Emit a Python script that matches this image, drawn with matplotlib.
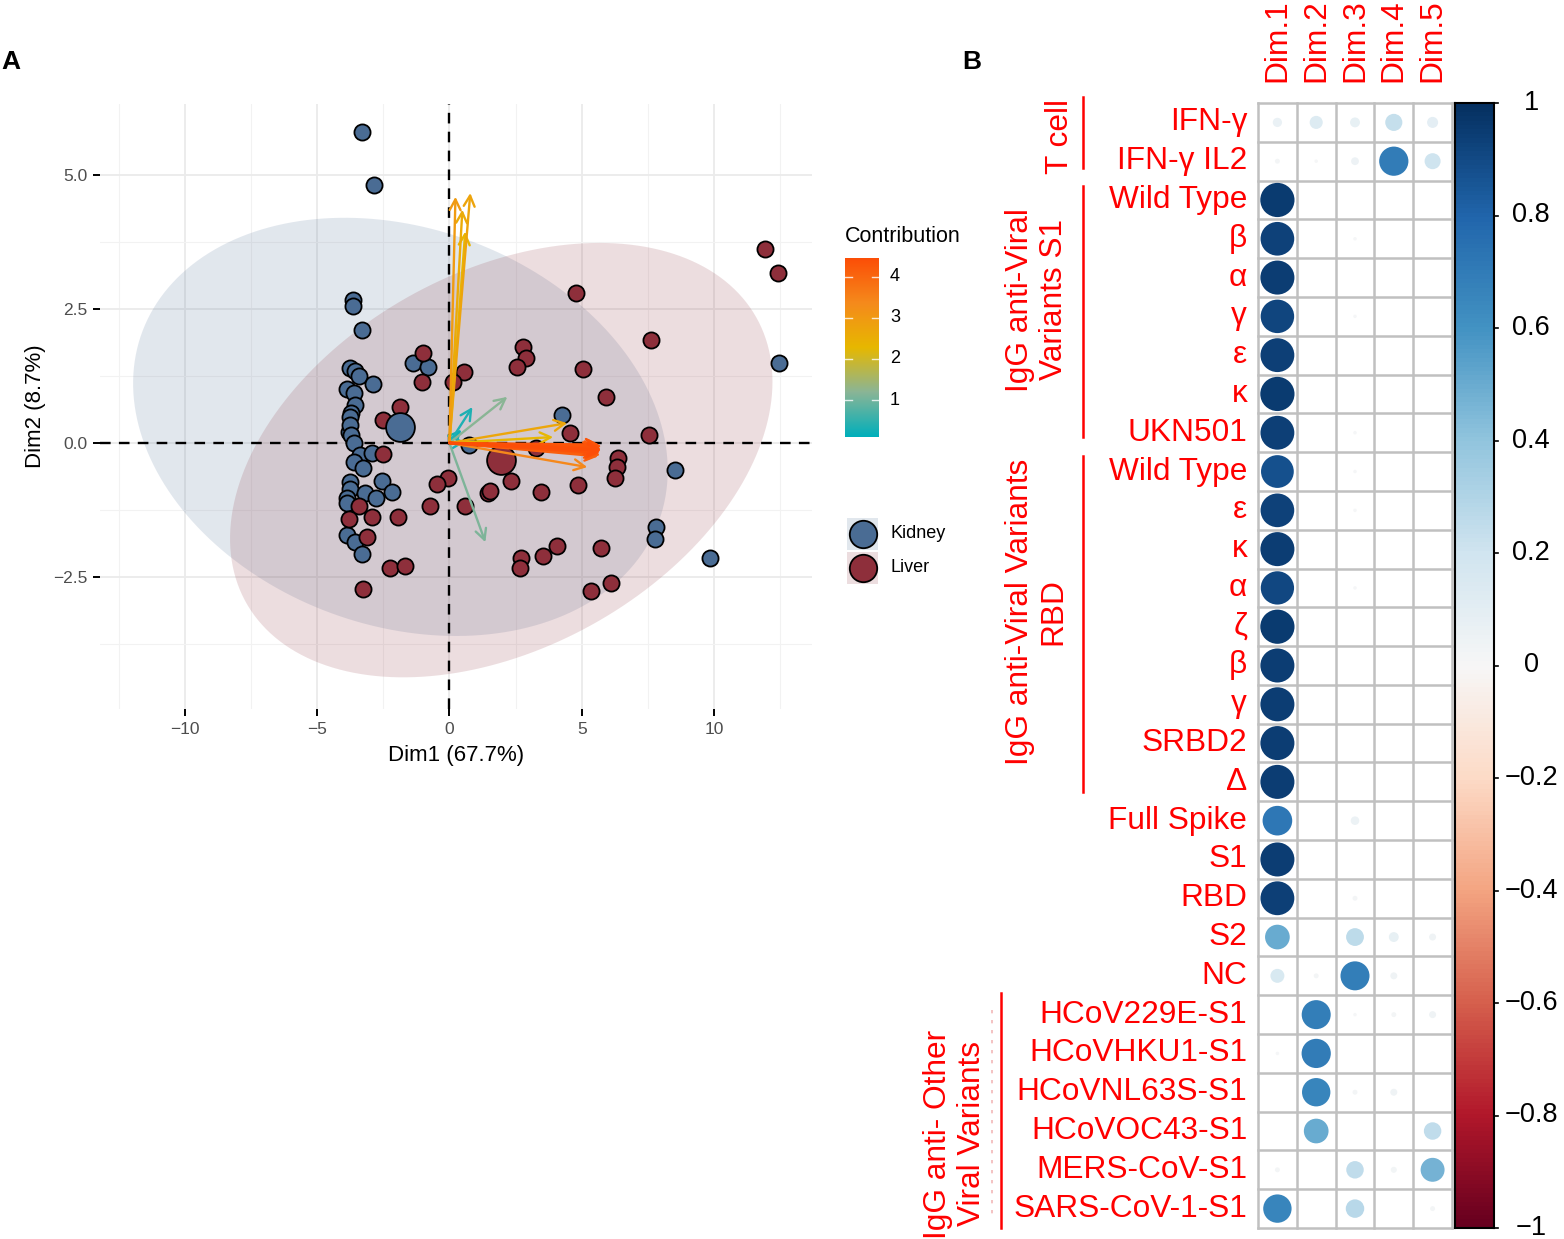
import numpy as np
import matplotlib
matplotlib.use("Agg")
import matplotlib.pyplot as plt
from matplotlib.colors import LinearSegmentedColormap, Normalize
from matplotlib.patches import Circle, Rectangle

plt.rcParams['font.family'] = ['Liberation Sans', 'DejaVu Sans']

W, H = 1564, 1239

# ---------------- panel A: PCA biplot -----------------------------------------
kidney_x = [-3.32, -2.83, -3.66, -3.66, -3.32, -3.74, -3.58, -3.43, -2.87, -1.36,
            -0.79, -3.85, -3.62, -3.55, -3.70, -3.77, -3.81, -3.77, -3.70, -3.62,
            -3.36, -2.94, -3.62, -3.28, -3.77, -3.77, -2.53, -2.15, -3.17, -2.79,
            -3.85, -3.85, -3.85, -3.58, -3.32, 0.75, 4.26, 8.53, 7.81, 7.77,
            9.85, 12.45]
kidney_y = [5.80, 4.81, 2.67, 2.56, 2.11, 1.40, 1.35, 1.25, 1.10, 1.49,
            1.42, 1.01, 0.93, 0.71, 0.55, 0.49, 0.21, 0.34, 0.15, 0.00,
            -0.22, -0.19, -0.35, -0.47, -0.73, -0.85, -0.71, -0.91, -0.94, -1.03,
            -1.03, -1.12, -1.72, -1.85, -2.07, -0.04, 0.52, -0.50, -1.57, -1.79,
            -2.15, 1.49]
liver_x = [11.92, 12.42, 4.79, 7.62, 2.79, 2.91, 2.57, 5.06, 5.92, 0.57,
           0.15, 4.57, 7.55, 6.38, 6.34, 6.26, 3.28, 4.87, 3.47, 2.34,
           1.47, 1.55, -0.04, -0.45, -0.72, 0.60, 2.72, 2.68, 3.55, 4.08,
           5.74, 5.36, 6.11, -2.26, -1.66, -3.28, -3.13, -3.40, -2.91, -1.96,
           -3.81, -0.98, -1.02, -1.85, -2.49, -2.51]
liver_y = [3.62, 3.17, 2.80, 1.92, 1.79, 1.59, 1.42, 1.38, 0.86, 1.32,
           1.14, 0.19, 0.15, -0.28, -0.45, -0.66, -0.10, -0.78, -0.91, -0.71,
           -0.94, -0.90, -0.65, -0.77, -1.17, -1.17, -2.15, -2.33, -2.11, -1.93,
           -1.95, -2.76, -2.62, -2.33, -2.30, -2.72, -1.75, -1.17, -1.38, -1.38,
           -1.42, 1.68, 1.14, 0.67, 0.43, -0.20]
kidney_centre = (-1.85, 0.30)
liver_centre = (1.96, -0.32)
# concentration ellipses: (sxx, syy, sxy) scaled second moments
kidney_ell = (102.0, 15.2, -8.2)
liver_ell = (105.0, 16.4, 15.0)

# variable arrows (coordinates, contribution)
var_x = [0.23, 0.79, 0.49, 0.60, 4.45, 3.92, 5.21, 2.19, 0.87, 1.36, 0.60, 0.45,
         5.72, 5.70, 5.68, 5.66, 5.74, 5.60, 5.64, 5.70, 5.58, 5.75, 5.62, 5.69,
         5.55, 5.73, 5.66, 5.60]
var_y = [4.59, 4.66, 4.35, 3.94, 0.37, 0.11, -0.45, 0.86, 0.67, -1.85, 0.02, 0.25,
         -0.10, -0.15, -0.05, -0.20, -0.12, -0.08, -0.17, -0.22, -0.13, -0.06, -0.25, -0.18,
         -0.10, -0.14, -0.03, -0.19]
var_contrib = [2.95, 2.75, 2.60, 2.35, 2.70, 2.30, 3.40, 1.20, 0.35, 1.10, 0.30, 0.20,
               4.40, 4.30, 4.35, 4.20, 4.46, 4.25, 4.30, 4.10, 4.38, 4.30, 4.15, 4.40,
               4.20, 4.45, 4.30, 4.25]
contrib_min, contrib_max = 0.10, 4.46

KIDNEY_COL = "#4A6C94"
LIVER_COL = "#8E2F3B"

# ---------------- panel B: correlation-style dot matrix ------------------------
row_labels = ["IFN-γ", "IFN-γ IL2", "Wild Type", "β", "α", "γ", "ε", "κ", "UKN501",
              "Wild Type", "ε", "κ", "α", "ζ", "β", "γ", "SRBD2", "Δ",
              "Full Spike", "S1", "RBD", "S2", "NC",
              "HCoV229E-S1", "HCoVHKU1-S1", "HCoVNL63S-S1", "HCoVOC43-S1",
              "MERS-CoV-S1", "SARS-CoV-1-S1"]
dim_labels = ["Dim.1", "Dim.2", "Dim.3", "Dim.4", "Dim.5"]
dim1 = [0.07, 0.02, 0.96, 0.93, 0.95, 0.92, 0.94, 0.96, 0.94,
        0.88, 0.93, 0.95, 0.91, 0.96, 0.95, 0.95, 0.95, 0.95,
        0.72, 0.95, 0.94, 0.50, 0.16, 0.00, 0.01, 0.00, 0.00, 0.02, 0.66]
dim2 = [0.14, 0.01, 0.00, 0.00, 0.00, 0.00, 0.00, 0.00, 0.00,
        0.00, 0.00, 0.00, 0.00, 0.00, 0.00, 0.00, 0.00, 0.00,
        0.00, 0.00, 0.00, 0.00, 0.02, 0.69, 0.70, 0.66, 0.50, 0.00, 0.00]
dim3 = [0.08, 0.05, 0.00, 0.01, 0.00, 0.01, 0.00, 0.00, 0.01,
        0.01, 0.01, 0.00, 0.01, 0.00, 0.00, 0.00, 0.00, 0.00,
        0.06, 0.00, 0.02, 0.26, 0.69, 0.01, 0.00, 0.02, 0.00, 0.25, 0.28]
dim4 = [0.24, 0.70, 0.00, 0.00, 0.00, 0.00, 0.00, 0.00, 0.00,
        0.00, 0.00, 0.00, 0.00, 0.00, 0.00, 0.00, 0.00, 0.00,
        0.00, 0.00, 0.00, 0.08, 0.04, 0.02, 0.00, 0.04, 0.00, 0.03, 0.00]
dim5 = [0.10, 0.21, 0.00, 0.00, 0.00, 0.00, 0.00, 0.00, 0.00,
        0.00, 0.00, 0.00, 0.00, 0.00, 0.00, 0.00, 0.00, 0.00,
        0.00, 0.00, 0.00, 0.04, 0.00, 0.04, 0.00, 0.00, 0.25, 0.47, 0.02]
cbar_ticks = [1, 0.8, 0.6, 0.4, 0.2, 0, -0.2, -0.4, -0.6, -0.8, -1]


def frac(x0, y0, x1, y1):
    return [x0 / W, 1 - y1 / H, (x1 - x0) / W, (y1 - y0) / H]


def ellipse_xy(centre, mom, n=200):
    sxx, syy, sxy = mom
    L = np.linalg.cholesky(np.array([[sxx, sxy], [sxy, syy]]))
    t = np.linspace(0, 2 * np.pi, n)
    pts = L @ np.vstack([np.cos(t), np.sin(t)])
    return centre[0] + pts[0], centre[1] + pts[1]


fig = plt.figure(figsize=(W / 100, H / 100), dpi=100)

# ---- panel A ----
ax = fig.add_axes(frac(100, 104, 812, 709))
ax.set_xlim(-13.2, 13.7)
ax.set_ylim(-4.96, 6.32)
for s in ax.spines.values():
    s.set_visible(False)
ax.set_xticks([-10, -5, 0, 5, 10])
ax.set_yticks([-2.5, 0, 2.5, 5.0])
ax.set_xticks([-12.5, -7.5, -2.5, 2.5, 7.5, 12.5], minor=True)
ax.set_yticks([-3.75, -1.25, 1.25, 3.75], minor=True)
ax.tick_params(which="major", length=5, width=1.4, color="black",
               labelcolor="#4D4D4D", labelsize=12.5, pad=4)
ax.tick_params(which="minor", length=0)
ax.grid(which="major", color="#EBEBEB", lw=1.3, zorder=0)
ax.grid(which="minor", color="#F2F2F2", lw=0.8, zorder=0)
ax.set_axisbelow(True)

ex, ey = ellipse_xy(kidney_centre, kidney_ell)
ax.fill(ex, ey, color=KIDNEY_COL, alpha=0.16, lw=0, zorder=1)
ex, ey = ellipse_xy(liver_centre, liver_ell)
ax.fill(ex, ey, color=LIVER_COL, alpha=0.16, lw=0, zorder=1)

ax.axhline(0, color="black", lw=1.7, ls=(0, (4.5, 3.5)), zorder=2)
ax.axvline(0, color="black", lw=1.7, ls=(0, (4.5, 3.5)), zorder=2)

ax.scatter(kidney_x, kidney_y, s=135, c=KIDNEY_COL, edgecolors="black",
           linewidths=1.3, zorder=3)
ax.scatter(liver_x, liver_y, s=135, c=LIVER_COL, edgecolors="black",
           linewidths=1.3, zorder=3)
ax.scatter(*kidney_centre, s=430, c=KIDNEY_COL, edgecolors="black",
           linewidths=1.3, zorder=4)
ax.scatter(*liver_centre, s=430, c=LIVER_COL, edgecolors="black",
           linewidths=1.3, zorder=4)

# teal -> gold -> orange-red, with Lab-like muted intermediates
ccmap = LinearSegmentedColormap.from_list(
    "contrib", [(0.0, "#00AFBB"), (0.25, "#8AB596"), (0.5, "#E7B800"),
                (0.75, "#F58A1C"), (1.0, "#FC4E07")])
cnorm = Normalize(contrib_min, contrib_max)
order = np.argsort(var_contrib)
for i in order:
    ax.annotate("", xy=(var_x[i], var_y[i]), xytext=(0, 0),
                arrowprops=dict(arrowstyle="->,head_length=0.55,head_width=0.28",
                                color=ccmap(cnorm(var_contrib[i])), lw=1.7,
                                shrinkA=0, shrinkB=0, mutation_scale=14),
                zorder=5)

ax.set_xlabel("Dim1 (67.7%)", fontsize=16, labelpad=6)
ax.set_ylabel("Dim2 (8.7%)", fontsize=16, labelpad=5)

# contribution colourbar
cax = fig.add_axes(frac(845, 258, 879, 437))
grad = np.linspace(contrib_min, contrib_max, 256).reshape(-1, 1)
cax.imshow(grad, cmap=ccmap, norm=cnorm, aspect="auto", origin="lower",
           extent=[0, 1, contrib_min, contrib_max])
cax.set_xlim(0, 1)
cax.set_ylim(contrib_min, contrib_max)
cax.set_xticks([])
cax.set_yticks([])
for s in cax.spines.values():
    s.set_visible(False)
for v in [1, 2, 3, 4]:
    cax.plot([0, 0.2], [v, v], color="white", lw=1, alpha=0.8)
    cax.plot([0.8, 1], [v, v], color="white", lw=1, alpha=0.8)
    cax.text(1.32, v, str(v), transform=cax.transData, ha="left", va="center",
             fontsize=13, color="black", clip_on=False)

# ---- overlay in pixel coordinates ----
ov = fig.add_axes([0, 0, 1, 1], zorder=10)
ov.set_xlim(0, W)
ov.set_ylim(H, 0)
ov.axis("off")
ov.patch.set_visible(False)

ov.text(1, 62, "A", fontsize=19, fontweight="bold", va="center", ha="left")
ov.text(962, 62, "B", fontsize=19, fontweight="bold", va="center", ha="left")
ov.text(845, 236, "Contribution", fontsize=15.5, va="center", ha="left")

for yk, col, lab in [(534, KIDNEY_COL, "Kidney"), (568, LIVER_COL, "Liver")]:
    ov.add_patch(Rectangle((847, yk - 16), 31, 32, color=col, alpha=0.16, lw=0))
    ov.scatter([862.5], [yk], s=390, c=col, edgecolors="black", linewidths=1.3)
    ov.text(890, yk, lab, fontsize=13, va="center", ha="left")

# ---- panel B ----
bx = fig.add_axes(frac(1258, 103, 1452, 1228))
nrow, ncol = len(row_labels), len(dim_labels)
bx.set_xlim(0, ncol)
bx.set_ylim(nrow, 0)
bx.axis("off")
rdbu = plt.get_cmap("RdBu")
cols = [dim1, dim2, dim3, dim4, dim5]
for c in range(ncol):
    for r in range(nrow):
        v = cols[c][r]
        if v > 0:
            bx.add_patch(Circle((c + 0.5, r + 0.5), 0.45 * np.sqrt(abs(v)),
                                color=rdbu((v + 1) / 2), lw=0, zorder=2))
for c in range(ncol + 1):
    bx.plot([c, c], [0, nrow], color="#C0C0C0", lw=1.8, zorder=1, clip_on=False)
for r in range(nrow + 1):
    bx.plot([0, ncol], [r, r], color="#C0C0C0", lw=1.8, zorder=1, clip_on=False)
for r, lab in enumerate(row_labels):
    bx.text(-0.28, r + 0.5, lab, ha="right", va="center", color="red",
            fontsize=22.8, clip_on=False)
for c, lab in enumerate(dim_labels):
    bx.text(c + 0.5, -0.55, lab, ha="center", va="bottom", rotation=90,
            color="red", fontsize=22.8, clip_on=False)

# correlation colourbar
kax = fig.add_axes(frac(1455, 103, 1494, 1228))
kgrad = np.linspace(-1, 1, 256).reshape(-1, 1)
kax.imshow(kgrad, cmap=rdbu, vmin=-1, vmax=1, aspect="auto", origin="lower",
           extent=[0, 1, -1, 1])
kax.set_xlim(0, 1)
kax.set_ylim(-1, 1)
kax.set_xticks([])
kax.set_yticks([])
for s in kax.spines.values():
    s.set_linewidth(1.5)
for v in cbar_ticks:
    kax.plot([1, 1.1], [v, v], color="black", lw=1.2, clip_on=False)
    lab = "0" if v == 0 else (f"{v:g}" if v > 0 else f"−{abs(v):g}")
    kax.text(1.95, v, lab, ha="center", va="center", fontsize=19.5,
             clip_on=False)

# group brackets and labels
groups = [
    ("T cell", 1060, 136, 1083, 97, 168),
    ("IgG anti-Viral\nVariants S1", 1037, 300, 1083, 186, 437),
    ("IgG anti-Viral Variants\nRBD", 1037, 612, 1083, 456, 792),
    ("IgG anti- Other\nViral Variants", 955, 1134, 1001, 993, 1228),
]
for txt, tx, ty, lx, ly0, ly1 in groups:
    ov.text(tx, ty, txt, rotation=90, ha="center", va="center", color="red",
            fontsize=22.8, multialignment="center", linespacing=1.15)
    ov.plot([lx, lx], [ly0, ly1], color="red", lw=1.8)
ov.plot([992, 992], [1010, 1215], color="#F2B8B8", lw=1.2, ls=(0, (2, 4)))

fig.savefig("out.png", dpi=100)
